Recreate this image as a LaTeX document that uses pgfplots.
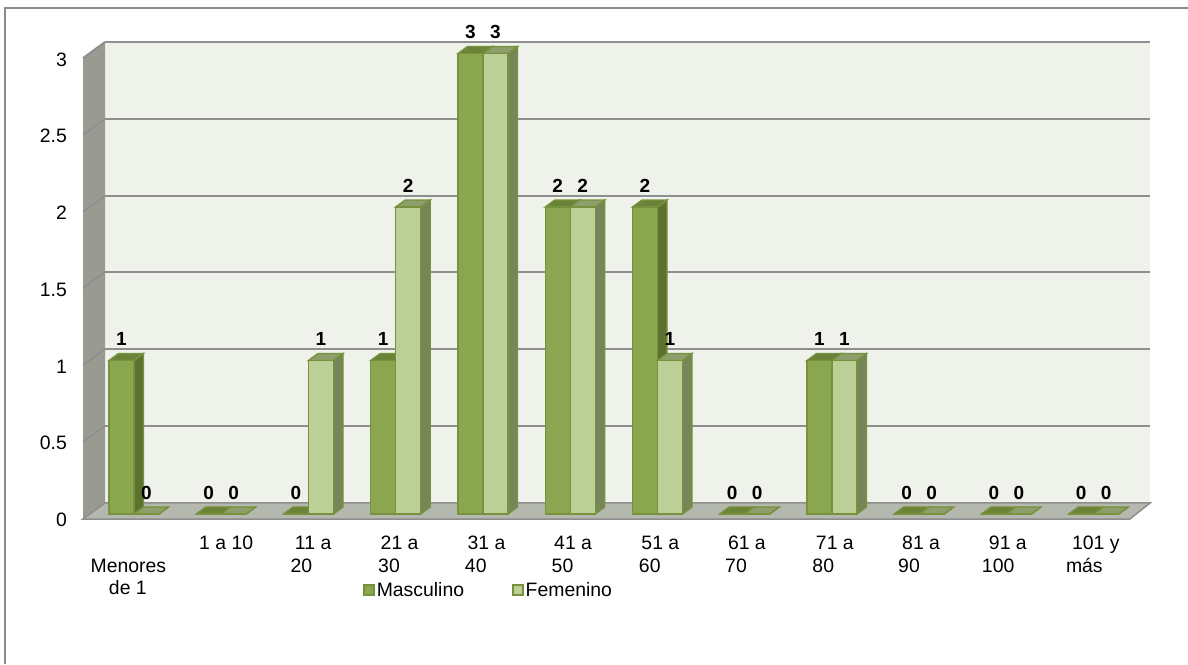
\documentclass[border=0pt]{standalone}
\usepackage{pgfplots}
\usepackage{pgfplotstable}
\usepackage{fontspec}
\setmainfont{Liberation Sans}
\pgfplotsset{compat=1.18}

\definecolor{masc}{HTML}{8AA64F}
\definecolor{mascside}{HTML}{5C7030}
\definecolor{masctop}{HTML}{6B8239}
\definecolor{fem}{HTML}{BBCF97}
\definecolor{femside}{HTML}{778659}
\definecolor{femtop}{HTML}{8E9F6C}
\definecolor{borde}{HTML}{76923C}
\definecolor{pared}{HTML}{EFF2EB}
\definecolor{paredizq}{HTML}{999B93}
\definecolor{piso}{HTML}{B5B8AF}
\definecolor{rejilla}{HTML}{8E8E8E}
\definecolor{marco}{HTML}{8C8C8C}

\pgfplotstableread{
x v
0 1
1 0
2 0
3 1
4 3
5 2
6 2
7 0
8 1
9 0
10 0
11 0
}\masculino
\pgfplotstableread{
x v
0 0
1 0
2 1
3 2
4 3
5 2
6 1
7 0
8 1
9 0
10 0
11 0
}\femenino

% lados de una barra: centro del grupo, valor, desplazamiento, colores
\newcommand\caras[5]{%
  \pgfmathsetmacro\xa{#1+#3}%
  \pgfmathsetmacro\xb{#1+#3+0.2865}%
  \pgfmathsetmacro\xc{#1+#3+0.109}%
  \pgfmathsetmacro\xd{#1+#3+0.2865+0.109}%
  \pgfmathsetmacro\ya{#2+0.0456}%
  \edef\tmp{\noexpand\addplot[forget plot,fill=#4,draw=borde,line width=1.4pt]
    coordinates {(\xb,0) (\xd,0.0456) (\xd,\ya) (\xb,#2)} -- cycle;
    \noexpand\addplot[forget plot,fill=#5,draw=borde,line width=1.4pt]
    coordinates {(\xa,#2) (\xc,\ya) (\xd,\ya) (\xb,#2)} -- cycle;}%
  \tmp
}
\newcommand\cm[2]{\caras{#1}{#2}{-0.2865}{mascside}{masctop}}
\newcommand\cf[2]{\caras{#1}{#2}{0}{femside}{femtop}}
% etiqueta de tres lineas, cada una con su sangria
\newcommand\lin[2]{\makebox[0pt][l]{\hspace*{#1pt}\strut #2}}
\newcommand\tl[6]{\lin{#1}{#2}\\\lin{#3}{#4}\\\lin{#5}{#6}}
\pgfplotsset{dato/.style={
  nodes near coords={\pgfmathprintnumber[assume math mode=true]{\pgfplotspointmeta}},
  every node near coord/.append style={font=\fontsize{19}{21}\bfseries\selectfont,
    anchor=south,xshift=#1,yshift=12pt,inner sep=2pt,text=black},
  point meta=y}}

\begin{document}
\begin{tikzpicture}[x=1pt,y=1pt]
\useasboundingbox (0,0) rectangle (1188,664);
\draw[marco,line width=2pt] (5,0) -- (5,656) -- (1188,656);
\begin{axis}[
  at={(83pt,145pt)},anchor=south west,
  scale only axis,width=1067pt,height=477pt,
  xmin=-0.5845,xmax=11.645,
  ymin=-0.0326,ymax=3.075,
  clip=false,
  axis x line*=bottom,axis y line*=left,
  axis line style={draw=none},
  major tick length=0pt,
  tick style={draw=none},
  xtick={0,...,11},
  ytick={0,0.5,1,1.5,2,2.5,3},
  yticklabels={0,0.5,1,1.5,2,2.5,3},
  xticklabels={
    {\tl{0}{}{-43.3}{Menores}{-25}{de 1}},
    {\tl{-22}{1 a 10}{0}{}{0}{}},
    {\tl{-13.5}{11 a}{-17.8}{20}{0}{}},
    {\tl{-15}{21 a}{-17.5}{30}{0}{}},
    {\tl{-15.3}{31 a}{-18}{40}{0}{}},
    {\tl{-16}{41 a}{-18.5}{50}{0}{}},
    {\tl{-16}{51 a}{-18.5}{60}{0}{}},
    {\tl{-16.7}{61 a}{-19.5}{70}{0}{}},
    {\tl{-16}{71 a}{-19.5}{80}{0}{}},
    {\tl{-17}{81 a}{-21}{90}{0}{}},
    {\tl{-17.5}{91 a}{-24.5}{100}{0}{}},
    {\tl{-21.7}{101 y}{-27.7}{más}{0}{}}},
  xticklabel style={anchor=north,align=center,inner sep=0pt,yshift=-15pt,
    font=\fontsize{19.4}{22.5}\selectfont},
  yticklabel style={anchor=east,inner sep=0pt,xshift=-16pt,yshift=-6pt,
    font=\fontsize{19.4}{22.5}\selectfont},
  /pgf/number format/assume math mode=true,
  legend style={draw=none,fill=none,at={(0.2624,-0.1279)},anchor=north west,
    font=\fontsize{19.4}{22.5}\selectfont,legend columns=2,
    /tikz/every even column/.append style={column sep=46pt},inner sep=0pt},
  legend image code/.code={\draw[#1,line width=1.6pt] (0pt,-5pt) rectangle (10pt,5pt);},
]
% pared del fondo, pared izquierda, piso
\addplot[forget plot,fill=pared,draw=none] coordinates {(-0.332,0.0717) (11.645,0.0717) (11.645,3.075) (-0.332,3.075)} -- cycle;
\addplot[forget plot,fill=paredizq,draw=none] coordinates {(-0.5845,-0.0326) (-0.332,0.0717) (-0.332,3.075) (-0.5845,2.97)} -- cycle;
\addplot[forget plot,fill=piso,draw=rejilla,line width=1.5pt] coordinates {(-0.5845,-0.0326) (11.415,-0.0326) (11.645,0.0717) (-0.332,0.0717)} -- cycle;
% rejilla
\addplot[forget plot,rejilla,line width=2pt] coordinates {(-0.332,3.075) (11.645,3.075)};
\addplot[forget plot,rejilla,line width=2pt] coordinates {(-0.332,2.573) (11.645,2.573)};
\addplot[forget plot,rejilla,line width=2pt] coordinates {(-0.332,2.072) (11.645,2.072)};
\addplot[forget plot,rejilla,line width=2pt] coordinates {(-0.332,1.577) (11.645,1.577)};
\addplot[forget plot,rejilla,line width=2pt] coordinates {(-0.332,1.075) (11.645,1.075)};
\addplot[forget plot,rejilla,line width=2pt] coordinates {(-0.332,0.573) (11.645,0.573)};
\addplot[forget plot,gray!60!paredizq,line width=1pt] coordinates {(-0.5845,2.47) (-0.332,2.573)};
\addplot[forget plot,gray!60!paredizq,line width=1pt] coordinates {(-0.5845,1.97) (-0.332,2.072)};
\addplot[forget plot,gray!60!paredizq,line width=1pt] coordinates {(-0.5845,1.47) (-0.332,1.577)};
\addplot[forget plot,gray!60!paredizq,line width=1pt] coordinates {(-0.5845,0.97) (-0.332,1.075)};
\addplot[forget plot,gray!60!paredizq,line width=1pt] coordinates {(-0.5845,0.47) (-0.332,0.573)};
\addplot[forget plot,rejilla,line width=2pt] coordinates {(-0.5845,2.97) (-0.332,3.075)};
% Masculino
\cm{0}{1}\cm{1}{0}\cm{2}{0}\cm{3}{1}\cm{4}{3}\cm{5}{2}\cm{6}{2}\cm{7}{0}\cm{8}{1}\cm{9}{0}\cm{10}{0}\cm{11}{0}
\addplot[ybar,bar width=25pt,bar shift=-12.5pt,fill=masc,draw=borde,line width=1.4pt,
  dato=-12.5pt] table[x=x,y=v] {\masculino};
\addlegendentry{Masculino}
% Femenino
\cf{0}{0}\cf{1}{0}\cf{2}{1}\cf{3}{2}\cf{4}{3}\cf{5}{2}\cf{6}{1}\cf{7}{0}\cf{8}{1}\cf{9}{0}\cf{10}{0}\cf{11}{0}
\addplot[ybar,bar width=25pt,bar shift=12.5pt,fill=fem,draw=borde,line width=1.4pt,
  dato=12.5pt] table[x=x,y=v] {\femenino};
\addlegendentry{Femenino}
\end{axis}
\end{tikzpicture}
\end{document}
